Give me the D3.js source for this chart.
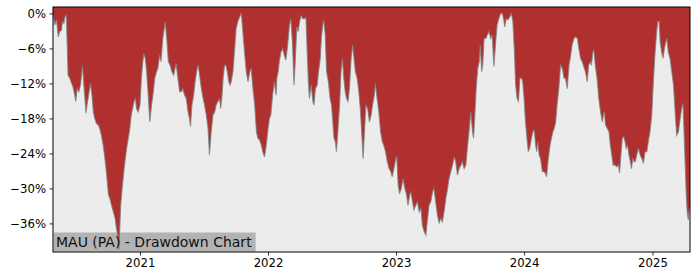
<!DOCTYPE html>
<html>
<head>
<meta charset="utf-8">
<script src="https://cdn.jsdelivr.net/npm/d3@7"></script>
<style>
	body { margin: 0; background: #ffffff; }
	svg { display: block; }
	text { font-family: "DejaVu Sans", sans-serif; }
</style>
</head>
<body>
<script>
// drawdown of MAU (PA)
var dates = [
"2020-04-28","2020-05-03","2020-05-08","2020-05-13","2020-05-17","2020-05-22","2020-05-25","2020-05-29","2020-06-01","2020-06-05",
"2020-06-10","2020-06-15","2020-06-20","2020-06-24","2020-06-29","2020-07-02","2020-07-06","2020-07-11","2020-07-16","2020-07-21",
"2020-07-25","2020-07-28","2020-07-31","2020-08-03","2020-08-09","2020-08-13","2020-08-17","2020-08-21","2020-08-25","2020-08-30",
"2020-09-04","2020-09-08","2020-09-13","2020-09-18","2020-09-23","2020-09-28","2020-10-03","2020-10-07","2020-10-12","2020-10-17",
"2020-10-22","2020-10-26","2020-10-31","2020-11-02","2020-11-04","2020-11-07","2020-11-12","2020-11-16","2020-11-20","2020-11-24",
"2020-11-27","2020-11-30","2020-12-03","2020-12-07","2020-12-11","2020-12-15","2020-12-19","2020-12-22","2020-12-27","2021-01-01",
"2021-01-05","2021-01-09","2021-01-12","2021-01-16","2021-01-20","2021-01-25","2021-01-29","2021-02-03","2021-02-08","2021-02-12",
"2021-02-17","2021-02-21","2021-02-26","2021-03-02","2021-03-07","2021-03-14","2021-03-19","2021-03-23","2021-03-28","2021-04-02",
"2021-04-07","2021-04-11","2021-04-14","2021-04-19","2021-04-24","2021-04-29","2021-05-03","2021-05-08","2021-05-13","2021-05-18",
"2021-05-22","2021-05-25","2021-05-29","2021-06-03","2021-06-07","2021-06-13","2021-06-16","2021-06-20","2021-06-25","2021-06-30",
"2021-07-04","2021-07-09","2021-07-14","2021-07-18","2021-07-23","2021-07-28","2021-08-02","2021-08-06","2021-08-11","2021-08-16",
"2021-08-19","2021-08-23","2021-08-26","2021-08-30","2021-09-03","2021-09-07","2021-09-11","2021-09-15","2021-09-18","2021-09-23",
"2021-09-28","2021-10-02","2021-10-07","2021-10-12","2021-10-17","2021-10-22","2021-10-26","2021-10-31","2021-11-05","2021-11-10",
"2021-11-14","2021-11-19","2021-11-24","2021-11-29","2021-12-03","2021-12-08","2021-12-13","2021-12-17","2021-12-22","2021-12-27",
"2021-12-31","2022-01-05","2022-01-09","2022-01-14","2022-01-19","2022-01-24","2022-01-26","2022-01-30","2022-02-02","2022-02-07",
"2022-02-12","2022-02-16","2022-02-21","2022-02-26","2022-03-03","2022-03-07","2022-03-12","2022-03-16","2022-03-20","2022-03-24",
"2022-03-28","2022-04-01","2022-04-05","2022-04-10","2022-04-15","2022-04-19","2022-04-23","2022-04-26","2022-04-29","2022-05-04",
"2022-05-09","2022-05-12","2022-05-16","2022-05-21","2022-05-25","2022-05-30","2022-06-02","2022-06-06","2022-06-09","2022-06-13",
"2022-06-17","2022-06-22","2022-06-27","2022-07-01","2022-07-04","2022-07-08","2022-07-12","2022-07-15","2022-07-19","2022-07-24",
"2022-07-28","2022-08-01","2022-08-05","2022-08-09","2022-08-13","2022-08-17","2022-08-21","2022-08-26","2022-08-30","2022-09-02",
"2022-09-07","2022-09-12","2022-09-16","2022-09-21","2022-09-26","2022-09-29","2022-10-03","2022-10-07","2022-10-12","2022-10-17",
"2022-10-22","2022-10-26","2022-10-31","2022-11-03","2022-11-08","2022-11-13","2022-11-18","2022-11-23","2022-11-27","2022-12-02",
"2022-12-07","2022-12-12","2022-12-17","2022-12-21","2022-12-26","2022-12-31","2023-01-03","2023-01-07","2023-01-11","2023-01-16",
"2023-01-21","2023-01-26","2023-01-31","2023-02-04","2023-02-09","2023-02-12","2023-02-17","2023-02-21","2023-02-26","2023-03-03",
"2023-03-08","2023-03-13","2023-03-17","2023-03-22","2023-03-27","2023-04-01","2023-04-05","2023-04-10","2023-04-15","2023-04-19",
"2023-04-24","2023-04-29","2023-05-04","2023-05-08","2023-05-13","2023-05-18","2023-05-23","2023-05-28","2023-06-01","2023-06-06",
"2023-06-11","2023-06-16","2023-06-20","2023-06-25","2023-06-30","2023-07-05","2023-07-09","2023-07-14","2023-07-19","2023-07-24",
"2023-07-28","2023-08-02","2023-08-07","2023-08-10","2023-08-14","2023-08-18","2023-08-22","2023-08-26","2023-08-29","2023-09-02",
"2023-09-05","2023-09-09","2023-09-14","2023-09-18","2023-09-23","2023-09-28","2023-10-02","2023-10-07","2023-10-12","2023-10-16",
"2023-10-21","2023-10-26","2023-10-31","2023-11-04","2023-11-07","2023-11-11","2023-11-16","2023-11-21","2023-11-26","2023-11-30",
"2023-12-04","2023-12-08","2023-12-12","2023-12-16","2023-12-20","2023-12-25","2023-12-28","2024-01-01","2024-01-05","2024-01-10",
"2024-01-13","2024-01-17","2024-01-22","2024-01-26","2024-01-30","2024-02-03","2024-02-06","2024-02-09","2024-02-13","2024-02-17",
"2024-02-22","2024-02-26","2024-03-02","2024-03-05","2024-03-10","2024-03-15","2024-03-19","2024-03-23","2024-03-27","2024-03-31",
"2024-04-04","2024-04-09","2024-04-14","2024-04-19","2024-04-24","2024-04-28","2024-05-03","2024-05-08","2024-05-13","2024-05-17",
"2024-05-22","2024-05-27","2024-06-01","2024-06-05","2024-06-10","2024-06-15","2024-06-19","2024-06-24","2024-06-29","2024-07-03",
"2024-07-08","2024-07-11","2024-07-15","2024-07-18","2024-07-22","2024-07-27","2024-08-01","2024-08-06","2024-08-11","2024-08-14",
"2024-08-17","2024-08-20","2024-08-25","2024-08-30","2024-09-03","2024-09-07","2024-09-11","2024-09-16","2024-09-21","2024-09-26",
"2024-09-29","2024-10-03","2024-10-07","2024-10-11","2024-10-15","2024-10-18","2024-10-22","2024-10-26","2024-10-30","2024-11-02",
"2024-11-06","2024-11-10","2024-11-13","2024-11-17","2024-11-22","2024-11-27","2024-12-02","2024-12-06","2024-12-11","2024-12-16",
"2024-12-20","2024-12-25","2024-12-30","2025-01-03","2025-01-08","2025-01-13","2025-01-16","2025-01-20","2025-01-23","2025-01-27",
"2025-01-31","2025-02-04","2025-02-08","2025-02-11","2025-02-15","2025-02-20","2025-02-25","2025-03-02","2025-03-06","2025-03-11",
"2025-03-16","2025-03-21","2025-03-25","2025-03-29","2025-04-01","2025-04-04","2025-04-07","2025-04-10","2025-04-13","2025-04-16",
"2025-04-18"
];
var drawdown = [
0,-2.0,-1.1,-4.0,-3.1,-2.9,-1.4,-1.7,-0.6,-0.3,
-10.6,-11.1,-12.0,-12.6,-14.0,-15.1,-12.9,-13.4,-12.0,-8.9,
-12.3,-14.6,-17.1,-15.7,-13.4,-12.0,-14.0,-16.9,-18.0,-18.9,
-19.1,-19.7,-20.9,-22.6,-24.9,-27.7,-31.1,-31.7,-32.9,-34.0,
-35.1,-36.9,-38.6,-40.5,-37.4,-32.9,-29.4,-27.1,-24.9,-23.1,
-22.0,-20.9,-19.7,-17.4,-16.3,-15.1,-14.6,-16.3,-16.9,-15.7,
-11.1,-8.3,-6.9,-7.7,-10.0,-14.6,-18.6,-15.7,-13.4,-11.1,
-10.0,-9.4,-7.1,-8.3,-4.3,-1.4,-4.9,-8.3,-8.9,-10.0,
-10.6,-9.4,-8.6,-11.1,-13.4,-13.4,-12.9,-14.0,-14.6,-16.9,
-18.0,-19.4,-15.7,-14.0,-11.7,-9.4,-8.9,-10.6,-12.9,-14.6,
-15.7,-17.4,-19.7,-24.3,-20.3,-17.4,-16.9,-15.7,-15.1,-14.6,
-16.3,-14.0,-11.1,-8.9,-8.9,-10.0,-11.7,-12.3,-11.7,-10.0,
-6.0,-2.6,-1.4,-0.6,0,-3.7,-6.6,-10.0,-11.7,-10.0,
-9.4,-12.9,-15.7,-20.3,-21.4,-21.7,-22.6,-23.7,-24.6,-22.6,
-20.3,-18.0,-17.4,-14.0,-11.7,-14.0,-11.1,-10.0,-8.3,-6.6,
-6.0,-7.1,-8.0,-5.4,-2.0,-0.9,-5.4,-12.3,-7.7,-2.3,
-3.1,-1.4,-0.4,-0.9,-0.9,-0.7,-7.1,-11.7,-14.6,-12.3,
-15.1,-15.7,-12.9,-12.3,-10.0,-7.7,-4.3,-2.0,-1.1,-3.7,
-10.0,-11.7,-14.6,-15.7,-18.0,-21.4,-22.0,-23.7,-20.3,-15.7,
-10.0,-7.7,-11.1,-13.4,-14.6,-15.1,-12.9,-7.7,-5.4,-7.1,
-10.0,-11.1,-12.9,-16.3,-21.4,-24.9,-20.3,-15.7,-16.3,-18.6,
-17.4,-15.7,-14.0,-12.0,-14.6,-16.9,-20.3,-22.0,-22.6,-23.7,
-25.4,-26.6,-27.1,-28.0,-26.6,-24.9,-24.6,-29.4,-30.9,-30.0,
-28.3,-30.0,-31.1,-32.9,-31.1,-30.6,-32.3,-33.7,-32.9,-32.3,
-34.0,-33.4,-36.3,-37.4,-38.0,-35.1,-32.9,-32.3,-30.6,-30.0,
-32.3,-34.6,-36.0,-35.1,-35.7,-34.0,-31.7,-30.0,-28.3,-27.1,
-26.0,-24.6,-25.4,-27.7,-26.6,-26.0,-25.4,-26.6,-26.0,-22.6,
-20.3,-16.9,-20.3,-21.4,-16.9,-12.3,-9.4,-8.3,-5.4,-10.0,
-8.9,-4.3,-4.3,-3.7,-3.1,-4.3,-3.7,-9.1,-4.9,-2.0,
-0.9,0,0,-1.1,-2.3,-0.9,-1.1,-0.6,0,-1.4,
-6.0,-12.3,-14.6,-15.1,-11.1,-11.1,-11.7,-14.6,-18.6,-22.0,
-23.7,-23.1,-21.4,-20.3,-20.0,-22.6,-23.7,-22.0,-24.3,-24.9,
-27.1,-27.1,-27.4,-28.0,-24.9,-22.6,-21.4,-20.3,-19.7,-18.6,
-15.7,-12.9,-8.9,-9.4,-11.1,-11.1,-12.9,-8.9,-7.1,-5.4,
-4.3,-4.0,-4.3,-6.0,-7.7,-8.3,-9.1,-10.0,-11.7,-8.9,
-8.3,-8.9,-6.6,-6.3,-8.9,-11.1,-14.6,-16.9,-18.6,-17.4,
-16.9,-19.1,-19.7,-20.3,-22.6,-24.3,-26.0,-26.0,-26.3,-26.0,
-27.4,-24.3,-21.4,-21.1,-22.0,-23.1,-22.6,-24.3,-25.4,-26.6,
-24.9,-25.4,-25.4,-24.3,-23.1,-24.3,-24.9,-25.7,-23.7,-23.7,
-22.0,-20.3,-17.4,-12.3,-7.1,-3.1,-1.4,-1.4,-4.9,-6.6,
-7.7,-6.0,-4.9,-4.3,-6.6,-7.7,-10.0,-12.3,-16.3,-20.9,
-20.3,-18.0,-16.3,-15.4,-20.3,-25.4,-30.6,-34.0,-35.4,-33.4,
-33.0
];
var yTicks = [0, -6, -12, -18, -24, -30, -36];
var xTicks = ["2021-01-01", "2022-01-01", "2023-01-01", "2024-01-01", "2025-01-01"];
var yDomain = [-40.9, 1.1];
var chartTitle = "MAU (PA) - Drawdown Chart";

(function(){
	var W = 700, H = 280;
	var margin = {top: 7, right: 10, bottom: 28, left: 53};
	var w = W - margin.left - margin.right,
		h = H - margin.top - margin.bottom;
	var parse = d3.timeParse("%Y-%m-%d");

	var data = [];
	for(var i = 0; i < dates.length; i++){
		data.push({date: parse(dates[i]), dd: drawdown[i]});
	}

	var svg = d3.select("body").append("svg")
		.attr("width", W)
		.attr("height", H);
	var g = svg.append("g")
		.attr("transform", "translate(" + margin.left + "," + margin.top + ")");

	var x = d3.scaleTime()
		.domain(d3.extent(data, function(d){ return d.date; }))
		.range([0, w]);
	var y = d3.scaleLinear()
		.domain(yDomain)
		.range([h, 0]);

	//背景
	g.append("rect")
		.attr("width", w)
		.attr("height", h)
		.style("fill", "#ececec");

	//标题框 (画在曲线下面, 尖峰能穿过去)
	var labelBox = g.append("rect")
		.attr("x", 0.5)
		.attr("y", h - 19.5)
		.attr("height", 19)
		.style("fill", "#b3b3b3");

	//回撤区域, 从顶部填到曲线
	var area = d3.area()
		.x(function(d){ return x(d.date); })
		.y0(0)
		.y1(function(d){ return y(d.dd); });
	g.append("path")
		.datum(data)
		.attr("d", area)
		.style("fill", "#b03030");

	var line = d3.line()
		.x(function(d){ return x(d.date); })
		.y(function(d){ return y(d.dd); });
	g.append("path")
		.datum(data)
		.attr("d", line)
		.style("fill", "none")
		.style("stroke", "#808080")
		.style("stroke-width", 1.1)
		.style("stroke-opacity", 0.8);

	var labelText = g.append("text")
		.attr("x", 3)
		.attr("y", h - 5.5)
		.style("font-size", "14px")
		.style("fill", "#111")
		.text(chartTitle);
	var bb = labelText.node().getBBox();
	labelBox.attr("width", bb.x + bb.width + 3);

	//坐标轴
	var yAxis = d3.axisLeft(y)
		.tickValues(yTicks)
		.tickSize(3.5)
		.tickPadding(3.5)
		.tickFormat(function(d){ return (d < 0 ? "\u2212" + (-d) : d) + "%"; });
	var gy = g.append("g").call(yAxis);

	var xAxis = d3.axisBottom(x)
		.tickValues(xTicks.map(parse))
		.tickSize(3.5)
		.tickPadding(3.5)
		.tickFormat(d3.timeFormat("%Y"));
	var gx = g.append("g")
		.attr("transform", "translate(0," + h + ")")
		.call(xAxis);

	[gx, gy].forEach(function(a){
		a.select(".domain").remove();
		a.selectAll("line").style("stroke", "#000").style("stroke-width", 0.8);
		a.selectAll("text")
			.style("font-family", "'DejaVu Sans', sans-serif")
			.style("font-size", "11.7px")
			.style("fill", "#000");
	});

	//边框
	g.append("rect")
		.attr("width", w)
		.attr("height", h)
		.style("fill", "none")
		.style("stroke", "#000")
		.style("stroke-width", 1);
})();
</script>
</body>
</html>
